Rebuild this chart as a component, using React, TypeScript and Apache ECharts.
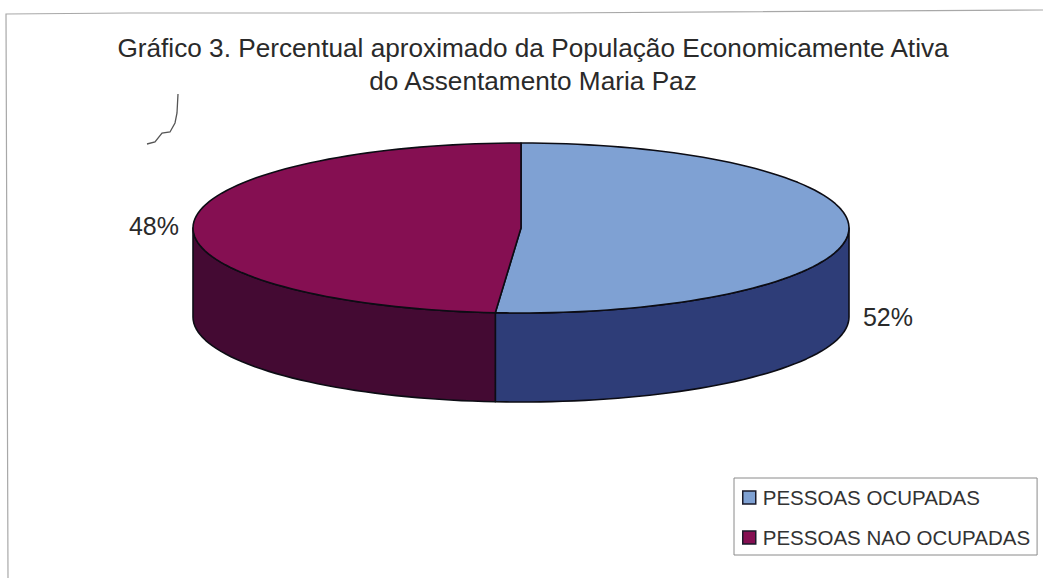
import React, { useEffect, useRef } from "react";
import * as echarts from "echarts";

const categories = ["PESSOAS OCUPADAS", "PESSOAS NAO OCUPADAS"];
const shares = [52, 48];
const titleLines = [
  "Gráfico 3. Percentual aproximado da População Economicamente Ativa",
  "do Assentamento Maria Paz",
];
const topColors = ["#7fa1d3", "#850f52"];
const sideColors = ["#2e3d78", "#440a33"];

const CX = 521, CY = 228, RX = 328, RY = 85, DEPTH = 89;
const LABEL_POS = [[888, 317], [154, 226]];
const EDGE = "#0c0c14";
const STEP = 2;
const rad = (d: number) => (d * Math.PI) / 180;

// The sheet's view foreshortens angles a little: the pie is seen slightly from one side.
const view = (deg: number) => deg + 21.6 * Math.sin(rad(deg));
const ring = (t: number, dy = 0) => [CX + RX * Math.sin(rad(t)), CY - RY * Math.cos(rad(t)) + dy];
const arc = (from: number, to: number, dy = 0) => {
  const pts: number[][] = [];
  const n = Math.max(1, Math.ceil(Math.abs(to - from) / STEP));
  for (let i = 0; i <= n; i++) pts.push(ring(from + ((to - from) * i) / n, dy));
  return pts;
};

const total = shares.reduce((a, b) => a + b, 0);

function renderSlice(params: any, api: any) {
  const idx = params.seriesIndex;
  const before = shares.slice(0, idx).reduce((a, b) => a + b, 0);
  const value = api.value(0);
  const t0 = view((before / total) * 360);
  const t1 = view(((before + value) / total) * 360);
  const children: any[] = [];
  const f0 = Math.max(t0, 90), f1 = Math.min(t1, 270);
  if (f1 > f0) {
    children.push({
      type: "polygon",
      shape: { points: [...arc(f0, f1), ...arc(f1, f0, DEPTH)] },
      style: { fill: sideColors[idx], stroke: EDGE, lineWidth: 1.6, lineJoin: "round" },
    });
  }
  children.push({
    type: "polygon",
    shape: { points: [[CX, CY], ...arc(t0, t1)] },
    style: { fill: topColors[idx], stroke: EDGE, lineWidth: 1.6, lineJoin: "round" },
  });
  children.push({
    type: "text",
    style: {
      text: `${value}%`,
      x: LABEL_POS[idx][0],
      y: LABEL_POS[idx][1],
      align: "center",
      verticalAlign: "middle",
      font: '25px "Liberation Sans", Arial, sans-serif',
      fill: "#2a2a2a",
    },
  });
  return { type: "group", children };
}

export default function App() {
  const ref = useRef<HTMLDivElement>(null);
  useEffect(() => {
    const chart = echarts.init(ref.current!, undefined, { renderer: "svg" });
    chart.setOption({
      animation: false,
      backgroundColor: "#ffffff",
      title: {
        text: titleLines.join("\n"),
        left: 528,
        top: 26,
        textAlign: "center",
        textStyle: {
          fontFamily: '"Liberation Sans", Arial, sans-serif',
          fontSize: 26.2,
          fontWeight: "normal",
          color: "#2a2a2a",
          lineHeight: 33,
        },
      },
      legend: {
        orient: "vertical",
        left: 734,
        top: 478,
        width: 307,
        padding: [9, 7, 7, 8],
        itemGap: 19,
        itemWidth: 13,
        itemHeight: 13,
        borderColor: "#8a8a8a",
        borderWidth: 1,
        backgroundColor: "#ffffff",
        selectedMode: false,
        textStyle: {
          fontFamily: '"Liberation Sans", Arial, sans-serif',
          fontSize: 20.5,
          color: "#333333",
          padding: [0, 0, 0, 2],
        },
        data: categories.map((name, i) => ({
          name,
          icon: "rect",
          itemStyle: { color: topColors[i], borderColor: "#1a1a2a", borderWidth: 1.5 },
        })),
      },
      series: categories.map((name, i) => ({
        type: "custom",
        name,
        coordinateSystem: "none",
        itemStyle: { color: topColors[i] },
        renderItem: renderSlice,
        data: [[shares[i]]],
      })),
      graphic: [
        {
          type: "polyline",
          silent: true,
          shape: { points: [[8, 578], [6, 14], [130, 13], [550, 13], [1043, 10]] },
          style: { fill: "none", stroke: "#a8a8a8", lineWidth: 1.2 },
        },
        {
          type: "polyline",
          silent: true,
          shape: {
            points: [[178, 94], [177, 113], [175, 123], [170, 132], [162, 133], [155, 142], [147, 144]],
          },
          style: { fill: "none", stroke: "#555555", lineWidth: 1.3 },
        },
      ],
    });
    return () => chart.dispose();
  }, []);
  return (
    <div
      ref={ref}
      style={{ position: "absolute", left: 0, top: 0, width: 1043, height: 578 }}
    />
  );
}
